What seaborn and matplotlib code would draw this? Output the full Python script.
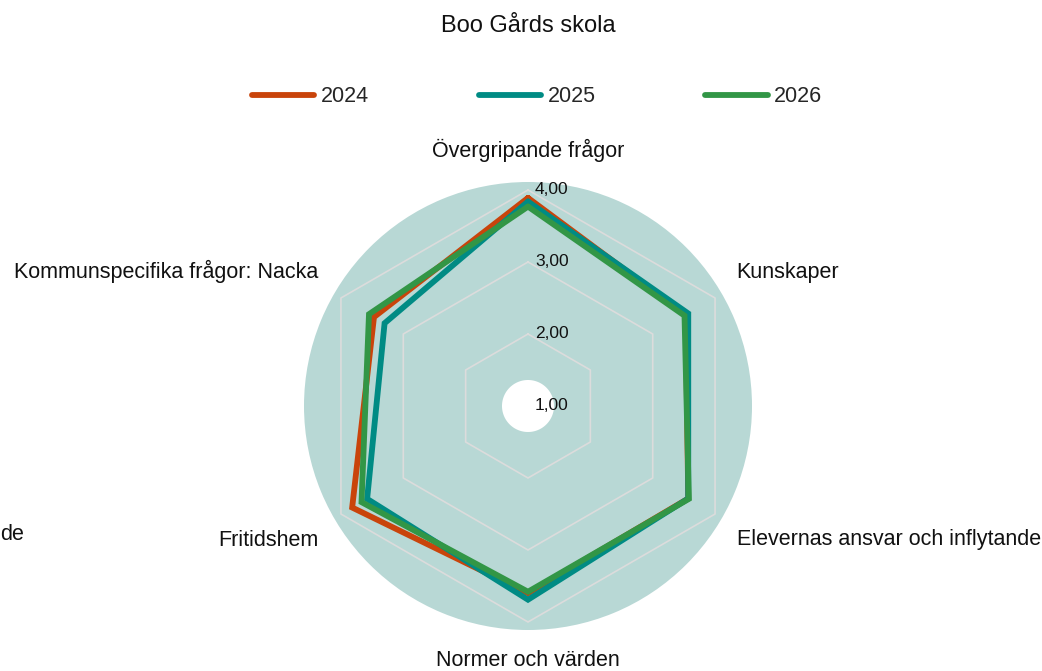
import numpy as np
import pandas as pd
import matplotlib
matplotlib.use("Agg")
import matplotlib.pyplot as plt
import matplotlib.transforms as mtransforms
import seaborn as sns

title = "Boo Gårds skola"
categories = [
    "Övergripande frågor",
    "Kunskaper",
    "Elevernas ansvar och inflytande",
    "Normer och värden",
    "Fritidshem",
    "Kommunspecifika frågor: Nacka",
]
years = ["2024", "2025", "2026"]
values_2024 = [3.89, 3.53, 3.57, 3.60, 3.82, 3.47]
values_2025 = [3.84, 3.57, 3.57, 3.69, 3.58, 3.30]
values_2026 = [3.77, 3.51, 3.58, 3.58, 3.67, 3.55]
ring_levels = [1, 2, 3, 4]
ring_labels = ["1,00", "2,00", "3,00", "4,00"]
colors = ["#C9440B", "#008B84", "#329646"]

sns.set_style("white")
plt.rcParams["font.family"] = ["Liberation Sans", "DejaVu Sans"]

n = len(categories)
angles = np.arange(n) * 2 * np.pi / n

rows = []
for year, vals in zip(years, [values_2024, values_2025, values_2026]):
    for i, (a, v) in enumerate(zip(list(angles) + [2 * np.pi], list(vals) + [vals[0]])):
        rows.append({"angle": a, "value": v, "year": year, "order": i})
df = pd.DataFrame(rows)

fig = plt.figure(figsize=(10.42, 6.71), dpi=100)
ax = fig.add_axes([304 / 1042, 41 / 671, 448 / 1042, 448 / 671], projection="polar")
ax.set_theta_zero_location("N")
ax.set_theta_direction(-1)
r_top = 1 + 224 / 72
ax.set_ylim(1, r_top)
ax.set_facecolor("#B8D8D5")
ax.spines["polar"].set_visible(False)
ax.grid(False)
ax.set_xticks([])
ax.set_yticks([])

# white hole in the middle
circ = np.linspace(0, 2 * np.pi, 200)
ax.fill(circ, np.full_like(circ, 1 + 26 / 72), color="white", zorder=1, lw=0)

# hexagon grid
closed = np.append(angles, angles[0])
for lvl in ring_levels[1:]:
    ax.plot(closed, np.full_like(closed, lvl, dtype=float), color="#DCDCDC", lw=1.2, zorder=2)

sns.lineplot(data=df, x="angle", y="value", hue="year", palette=colors, sort=False,
             estimator=None, lw=4.2, ax=ax, legend=False, zorder=3, solid_joinstyle="miter")
ax.set_xlabel("")
ax.set_ylabel("")

off = mtransforms.offset_copy(ax.transData, fig=fig, x=7, y=0, units="dots")
for lvl, lab in zip(ring_levels, ring_labels):
    ax.text(0, lvl, lab, transform=off, ha="left", va="center", fontsize=12.5, color="#111111", zorder=5)

# category labels
label_pos = [
    (0.0, 256, "center", "center"),
    (np.deg2rad(57.3), 248, "left", "center"),
    (np.deg2rad(122.7), 248, "left", "center"),
    (np.pi, 255, "center", "center"),
    (np.deg2rad(237.3), 249, "right", "center"),
    (np.deg2rad(302.7), 249, "right", "center"),
]
for cat, (a, rp, ha, va) in zip(categories, label_pos):
    ax.text(a, 1 + rp / 72, cat, ha=ha, va=va, fontsize=15.5, color="#111111")

# visible tail of a label that runs off the left edge
fig.text(0.5 / 1042, 1 - 535 / 671, categories[2][-2:], ha="left", va="center", fontsize=15.5, color="#111111")

fig.text(528 / 1042, 1 - 26 / 671, title, ha="center", va="center", fontsize=17, color="#111111")

handles = [plt.Line2D([], [], color=c, lw=4.2, solid_capstyle="round") for c in colors]
fig.legend(handles, years, loc="center", bbox_to_anchor=(537 / 1042, 1 - 97 / 671), ncol=3,
           frameon=False, fontsize=15.5, handlelength=2.9, handletextpad=0.3, columnspacing=5.1)

fig.savefig("out.png", dpi=100)
